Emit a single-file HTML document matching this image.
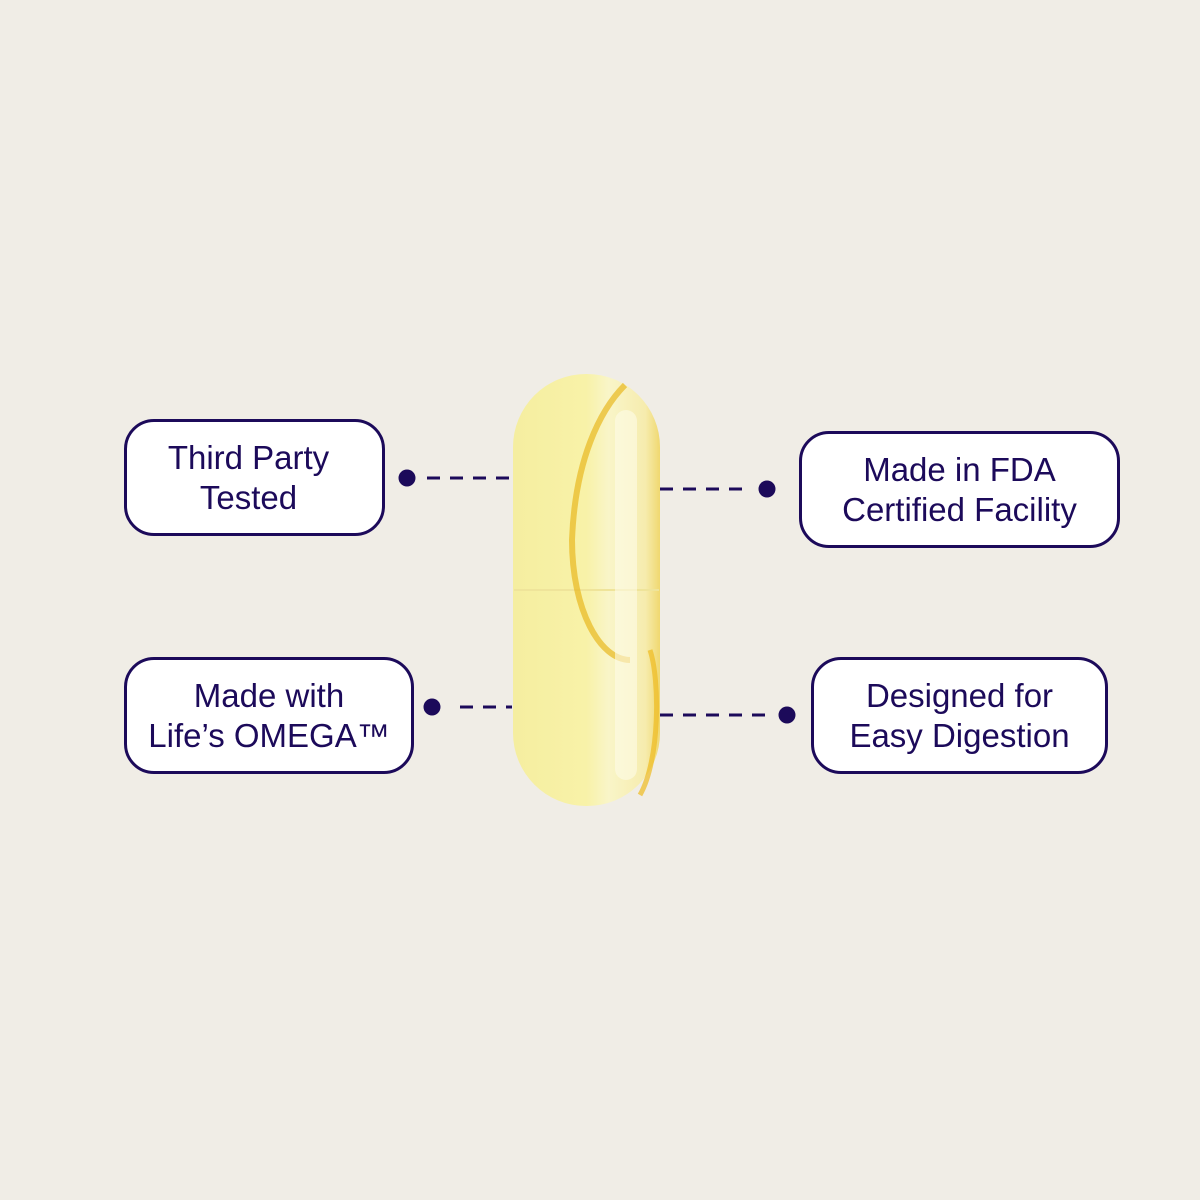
<!DOCTYPE html>
<html><head><style>
body{margin:0;width:1200px;height:1200px;background:#f0ede6;position:relative;overflow:hidden;font-family:"Liberation Sans",sans-serif}
.b{position:absolute;box-sizing:border-box;border:3px solid #1c0a5a;border-radius:30px;background:#fff;color:#1c0a5a;font-size:33px;line-height:40px;display:flex;align-items:center;justify-content:center;text-align:center}
</style></head><body>
<div class="b" style="left:124px;top:419px;width:261px;height:117px;padding-right:12px">Third Party<br>Tested</div>
<div class="b" style="left:799px;top:431px;width:321px;height:117px">Made in FDA<br>Certified Facility</div>
<div class="b" style="left:124px;top:657px;width:290px;height:117px">Made with<br>Life’s OMEGA™</div>
<div class="b" style="left:811px;top:657px;width:297px;height:117px">Designed for<br>Easy Digestion</div>
<svg width="1200" height="1200" style="position:absolute;left:0;top:0">
<defs>
<linearGradient id="g" x1="0" x2="1">
<stop offset="0" stop-color="#f5eea0"/><stop offset="0.5" stop-color="#f8f2a8"/><stop offset="0.65" stop-color="#f9f5c8"/><stop offset="0.9" stop-color="#f6ecae"/><stop offset="1" stop-color="#f0d870"/>
</linearGradient>
</defs>
<g stroke="#1c0a5a" stroke-width="3" stroke-dasharray="13 10">
<line x1="427" y1="478" x2="512" y2="478"/>
<line x1="660" y1="489" x2="752" y2="489"/>
<line x1="460" y1="707" x2="512" y2="707"/>
<line x1="660" y1="715" x2="772" y2="715"/>
</g>
<g fill="#1c0a5a">
<circle cx="407" cy="478" r="8.5"/><circle cx="767" cy="489" r="8.5"/>
<circle cx="432" cy="707" r="8.5"/><circle cx="787" cy="715" r="8.5"/>
</g>
<rect x="513" y="374" width="147" height="432" rx="73" fill="url(#g)"/>
<line x1="514" y1="590" x2="659" y2="590" stroke="#efe49a" stroke-width="2"/>
<path d="M625 385 C600 410 575 460 572 540 C572 610 600 660 630 660" fill="none" stroke="#e8b820" stroke-width="6" opacity="0.7"/>
<path d="M650 650 C660 680 660 760 640 795" fill="none" stroke="#eebb20" stroke-width="5" opacity="0.7"/>
<rect x="615" y="410" width="22" height="370" rx="11" fill="#fdfbe8" opacity="0.6"/>
</svg>
</body></html>
